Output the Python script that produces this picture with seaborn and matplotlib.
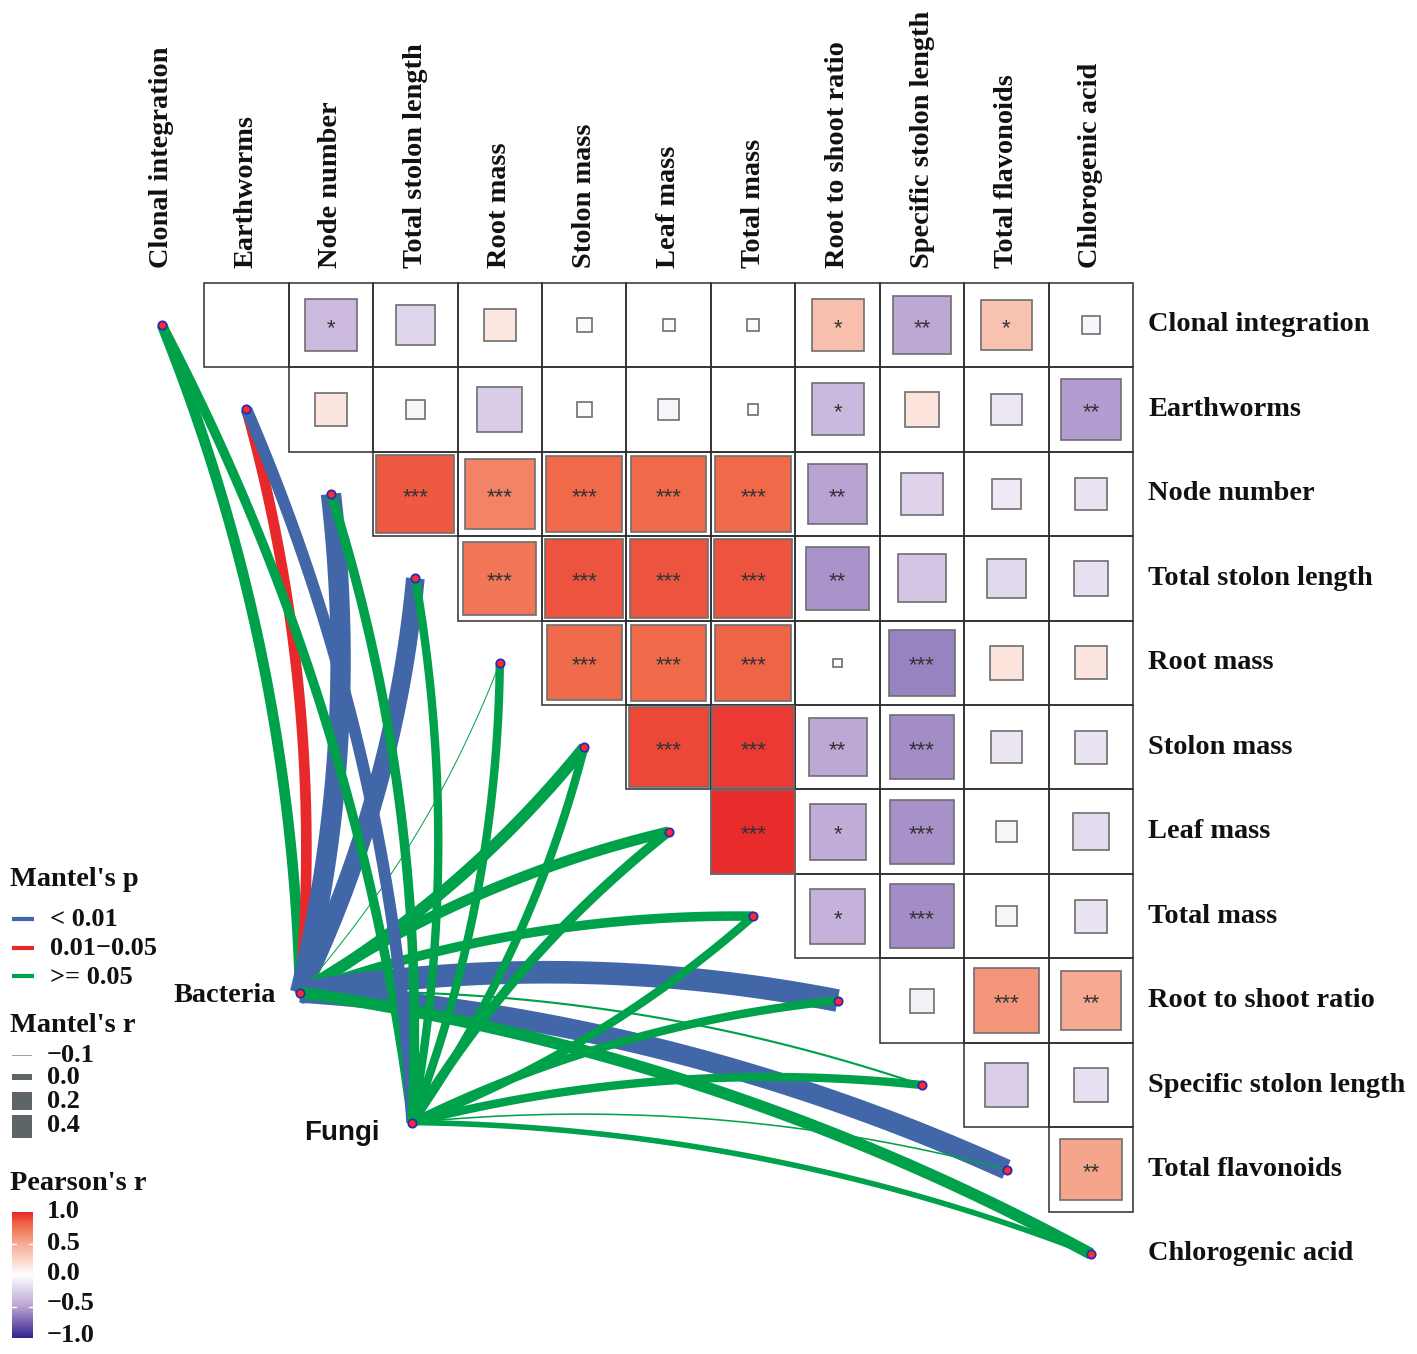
import numpy as np
import matplotlib
matplotlib.use("Agg")
import matplotlib.pyplot as plt
import seaborn as sns
from matplotlib.patches import Rectangle
from matplotlib.colors import LinearSegmentedColormap, Normalize

sns.set_theme(style="white")
plt.rcParams['font.family'] = ['Liberation Serif', 'DejaVu Sans']

variables = ["Clonal integration", "Earthworms", "Node number", "Total stolon length",
             "Root mass", "Stolon mass", "Leaf mass", "Total mass", "Root to shoot ratio",
             "Specific stolon length", "Total flavonoids", "Chlorogenic acid"]

# Pearson's r, upper triangle: row i holds the columns i+1 .. 11
r_clonal = [0.0, -0.37, -0.22, 0.14, -0.03, -0.02, -0.02, 0.38, -0.47, 0.36, -0.05]
r_earthworms = [0.15, -0.05, -0.28, -0.03, -0.06, -0.015, -0.38, 0.17, -0.13, -0.52]
r_node = [0.85, 0.68, 0.8, 0.8, 0.8, -0.5, -0.24, -0.12, -0.15]
r_stolon_len = [0.74, 0.86, 0.86, 0.86, -0.56, -0.32, -0.21, -0.17]
r_root = [0.79, 0.8, 0.82, -0.01, -0.62, 0.16, 0.15]
r_stolon_mass = [0.9, 0.94, -0.47, -0.58, -0.14, -0.15]
r_leaf = [0.99, -0.44, -0.57, -0.06, -0.19]
r_total = [-0.42, -0.58, -0.06, -0.15]
r_ratio = [-0.08, 0.6, 0.5]
r_specific = [-0.27, -0.17]
r_flavonoids = [0.53]
corr_rows = [r_clonal, r_earthworms, r_node, r_stolon_len, r_root, r_stolon_mass,
             r_leaf, r_total, r_ratio, r_specific, r_flavonoids]

stars_rows = [
    ["", "*", "", "", "", "", "", "*", "**", "*", ""],
    ["", "", "", "", "", "", "*", "", "", "**"],
    ["***", "***", "***", "***", "***", "**", "", "", ""],
    ["***", "***", "***", "***", "**", "", "", ""],
    ["***", "***", "***", "", "***", "", ""],
    ["***", "***", "**", "***", "", ""],
    ["***", "*", "***", "", ""],
    ["*", "***", "", ""],
    ["", "***", "**"],
    ["", ""],
    ["**"],
]

# Mantel test of each community against every variable
env_names = ["Bacteria", "Fungi"]
env_x = [1.635, 2.962]
env_y = [7.905, 9.444]
mantel_p_bacteria = ["b", "r", "a", "a", "b", "b", "b", "b", "a", "b", "a", "b"]
mantel_r_bacteria = [0.07, 0.07, 0.24, 0.21, -0.10, 0.09, 0.07, 0.05, 0.28, -0.08, 0.24, 0.09]
mantel_p_fungi = ["b", "a", "b", "b", "b", "b", "b", "b", "b", "b", "b", "b"]
mantel_r_fungi = [0.05, 0.09, 0.05, 0.03, 0.03, 0.03, 0.05, 0.03, 0.03, 0.03, -0.09, -0.02]
bend_bacteria = [1, 1, 1, 1, 1, 1, -1, -1, -1, -1, -1, -1]
bend_fungi = [1, 1, 1, 1, 1, 1, -1, 1, -1, -1, -1, -1]

p_colors = {"a": "#4267A9", "r": "#E8292B", "b": "#00A14B"}
p_labels = ["< 0.01", "0.01\u22120.05", ">= 0.05"]
r_breaks = [-0.1, 0.0, 0.2, 0.4]
pearson_ticks = [1.0, 0.5, 0.0, -0.5, -1.0]

cmap = LinearSegmentedColormap.from_list(
    "pr", [(0.0, "#34238C"), (0.25, "#B9A3D3"), (0.5, "#FFFFFF"),
           (0.75, "#F6AB93"), (0.9, "#F06A4A"), (1.0, "#E8282A")])
norm = Normalize(-1, 1)


def width_px(r):
    return max(0.9, 6.7 + 57 * r)


cell = 84.45
W, H = 1417, 1354
fig = plt.figure(figsize=(W / 100, H / 100), dpi=100)
ax = fig.add_axes([0, 0, 1, 1])
ax.set_xlim(-162 / cell, (W - 162) / cell)
ax.set_ylim((H - 325) / cell, -325 / cell)
ax.axis("off")

label_kw = dict(fontsize=20.4, fontweight="bold", color="#111111")

# correlation cells
for i, row in enumerate(corr_rows):
    for k, r in enumerate(row):
        j = i + 1 + k
        ax.add_patch(Rectangle((j - 0.5, i - 0.5), 1, 1, fill=False,
                               ec="#2e2e2e", lw=1.1, zorder=1))
        side = np.sqrt(abs(r))
        if side > 0:
            ax.add_patch(Rectangle((j - side / 2, i - side / 2), side, side,
                                   fc=cmap(norm(r)), ec="#6e6e6e", lw=1.2, zorder=2))
        s = stars_rows[i][k]
        if s:
            ax.text(j, i + 0.105, s, ha="center", va="baseline", fontsize=16,
                    family="Liberation Sans", color="#333333", zorder=3)

for i, name in enumerate(variables):
    ax.text(11.68, i, name, ha="left", va="center", **label_kw)
    ax.text(i, -0.675, name, rotation=90, ha="center", va="bottom", **label_kw)


def curve(x0, y0, x1, y1, bend, c=0.09):
    dx, dy = x1 - x0, y1 - y0
    cx = (x0 + x1) / 2 + bend * c * (-dy)
    cy = (y0 + y1) / 2 + bend * c * dx
    t = np.linspace(0, 1, 80)
    xs = (1 - t) ** 2 * x0 + 2 * (1 - t) * t * cx + t ** 2 * x1
    ys = (1 - t) ** 2 * y0 + 2 * (1 - t) * t * cy + t ** 2 * y1
    return xs, ys


links = [(mantel_p_bacteria, mantel_r_bacteria, bend_bacteria),
         (mantel_p_fungi, mantel_r_fungi, bend_fungi)]
for e, (pcat, mr, bend) in enumerate(links):
    for j in range(len(variables)):
        xs, ys = curve(env_x[e], env_y[e], j, j, bend[j])
        ax.plot(xs, ys, color=p_colors[pcat[j]], lw=width_px(mr[j]) * 0.72,
                solid_capstyle="butt", zorder=4)

# node points
sns.scatterplot(x=list(range(len(variables))) + env_x,
                y=list(range(len(variables))) + env_y,
                s=36, color="#FF2A2A", edgecolor="#2a2ab8", linewidth=1.3,
                ax=ax, zorder=6, legend=False)

ax.text(env_x[0] - 0.285, env_y[0] + 0.04, env_names[0], ha="right", va="center",
        **label_kw)
ax.text(env_x[1] - 0.38, env_y[1] + 0.12, env_names[1], ha="right", va="center",
        fontsize=20, fontweight="bold", family="Liberation Sans", color="#111111")

# legends, laid out in pixel space
lax = fig.add_axes([0, 0, 1, 1], facecolor="none")
lax.set_xlim(0, W)
lax.set_ylim(H, 0)
lax.axis("off")
leg_kw = dict(fontsize=19, fontweight="bold", color="#111111", va="center")

lax.text(10, 880, "Mantel's p", fontsize=20.4, fontweight="bold", color="#111111",
         va="center")
for k, key in enumerate(["a", "r", "b"]):
    y = 919 + 28.5 * k
    lax.plot([12, 34], [y, y], color=p_colors[key], lw=3, solid_capstyle="butt")
    lax.text(50, y + 1, p_labels[k], **leg_kw)

lax.text(10, 1026, "Mantel's r", fontsize=20.4, fontweight="bold", color="#111111",
         va="center")
key_y = [1055, 1077, 1101, 1126]
for k, rb in enumerate(r_breaks):
    h = min(width_px(rb), 23)
    col = "#9aa3a3" if h < 2 else "#5d6566"
    lax.add_patch(Rectangle((12, key_y[k] - h / 2), 20, h, fc=col, ec="none"))
    lax.text(47, key_y[k], f"{rb:.1f}".replace("-", "\u2212"), **leg_kw)

lax.text(10, 1184, "Pearson's r", fontsize=20.4, fontweight="bold", color="#111111",
         va="center")
cax = fig.add_axes([12 / W, 1 - 1338 / H, 21 / W, 126 / H])
grad = np.linspace(1, -1, 256).reshape(-1, 1)
cax.imshow(grad, aspect="auto", cmap=cmap, norm=norm, extent=[0, 1, -1, 1])
cax.set_xticks([])
cax.set_yticks([])
for sp in cax.spines.values():
    sp.set_visible(False)
for tv in [0.5, 0.0, -0.5]:
    cax.plot([0, 0.2], [tv, tv], color="white", lw=1)
    cax.plot([0.8, 1], [tv, tv], color="white", lw=1)
cax.set_xlim(0, 1)
cax.set_ylim(-1, 1)
tick_y = [1212, 1243, 1273, 1304, 1335]
for k, tv in enumerate(pearson_ticks):
    lax.text(47, tick_y[k], f"{tv:.1f}".replace("-", "\u2212"), **leg_kw)

fig.savefig("out.png", dpi=100)
